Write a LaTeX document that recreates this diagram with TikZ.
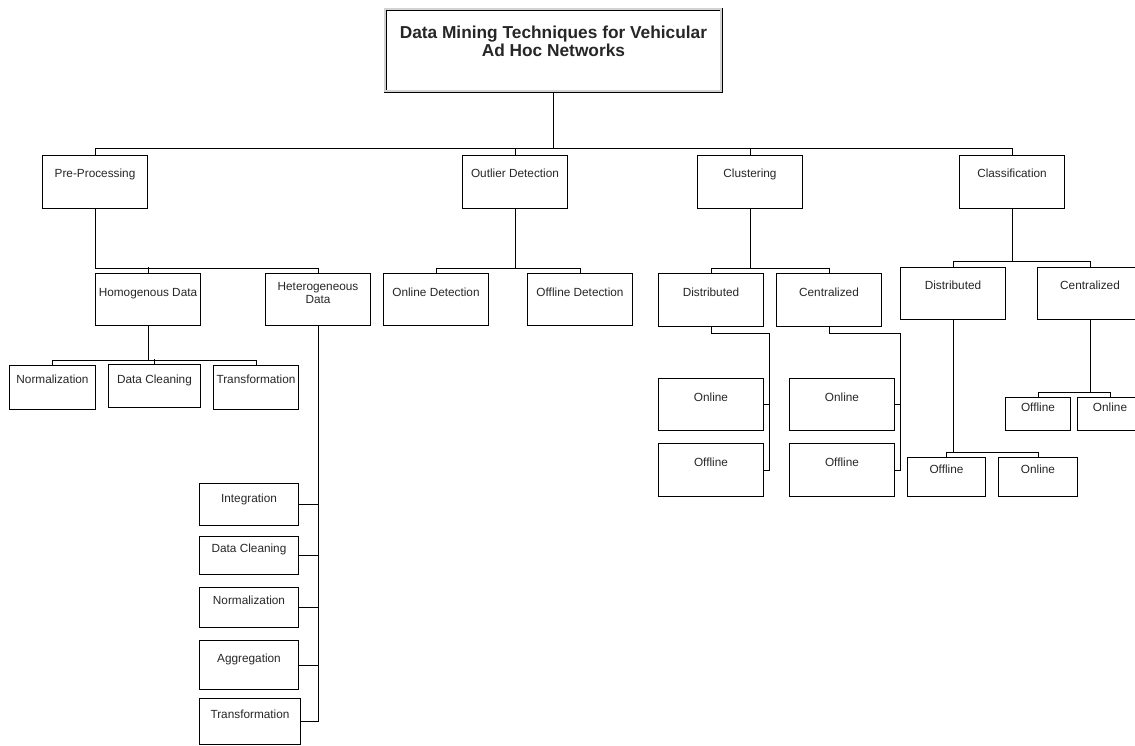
\documentclass[tikz,border=0pt]{standalone}
\usepackage{fontspec}
\setmainfont{Liberation Sans}

\begin{document}
\begin{tikzpicture}[%
    x=1pt, y=-1pt,              % work on the pixel grid, y going down
    line width=1pt,             % thin black connectors
    ]
\tikzset{
  base/.style={draw, anchor=north west, inner sep=0pt, align=center,
               text=black!85, font=\fontsize{11.8}{13.5}\selectfont},
  tbox/.style n args={3}{base, minimum width=#1, text height=#2pt, text depth=#3pt},
  head/.style={base, double=gray!35, double distance=2pt, line width=0.8pt,
               minimum width=336, text height=47.5pt, text depth=34.5pt,
               font=\fontsize{17.3}{18.5}\selectfont\bfseries},
}

\useasboundingbox (0,0) rectangle (1135,745);

% root
\node [head] (root) at (385,9) {Data Mining Techniques for Vehicular\\Ad Hoc Networks};

% first level
\node [tbox={105}{22}{31}] (pre) at (42,155) {Pre-Processing};
\node [tbox={105}{22}{31}] (out) at (462,155) {Outlier Detection};
\node [tbox={105}{22}{31}] (clu) at (697,155) {Clustering};
\node [tbox={105}{22}{31}] (cls) at (959,155) {Classification};

\draw (root.south) -- ++(0,57);
\draw (pre.north) -- ++(0,-7) -| (cls.north);
\draw (out.north) -- ++(0,-7);
\draw (clu.north) -- ++(0,-7);

% pre-processing
\node [tbox={105}{23}{29}] (hom) at (95,273) {Homogenous Data};
\node [tbox={105}{30}{22}] (het) at (265,273) {Heterogeneous\\Data};
\draw (pre.south) -- ++(0,59) -| (het.north);
\draw (hom.north) -- ++(0,-6);

\node [tbox={86}{17.5}{26}] (hnorm) at (9,365) {Normalization};
\node [tbox={92}{18.5}{24.5}] (hclean) at (108,364) {Data Cleaning};
\node [tbox={85}{17.5}{26}] (htrans) at (213,365) {Transformation};
\draw (hom.south) -- ++(0,34) -| (hnorm.north);
\draw (hom.south) -- ++(0,34) -| (htrans.north);
\draw (hclean.north) -- ++(0,-5);

\node [tbox={99}{18.5}{23.5}] (eint) at (199,483) {Integration};
\node [tbox={99}{15.5}{22.5}] (eclean) at (199,536) {Data Cleaning};
\node [tbox={99}{16.5}{23.5}] (enorm) at (199,587) {Normalization};
\node [tbox={99}{21.5}{27.5}] (eagg) at (199,640) {Aggregation};
\node [tbox={101}{19.5}{26.5}] (etrans) at (199,698) {Transformation};
\draw (het.south) |- (etrans.east);
\foreach \n in {eint,eclean,enorm,eagg}
  \draw (\n.east) -- (\n.east -| het.south);

% outlier detection
\node [tbox={105}{23}{29}] (onl) at (383,273) {Online Detection};
\node [tbox={105}{23}{29}] (off) at (527,273) {Offline Detection};
\draw (out.south) -- ++(0,59) -| (onl.north);
\draw (out.south) -- ++(0,59) -| (off.north);

% clustering
\node [tbox={105}{23}{30}] (cdist) at (658,273) {Distributed};
\node [tbox={105}{23}{30}] (ccent) at (776,273) {Centralized};
\draw (clu.south) -- ++(0,59) -| (cdist.north);
\draw (clu.south) -- ++(0,59) -| (ccent.north);

\node [tbox={105}{22.5}{29.5}] (cdon) at (658,378) {Online};
\node [tbox={105}{23}{30}] (cdoff) at (658,443) {Offline};
\node [tbox={105}{22.5}{29.5}] (ccon) at (789,378) {Online};
\node [tbox={105}{23}{30}] (ccoff) at (789,443) {Offline};
\draw (cdist.south) -- ++(0,6) -- ++(58.5,0) |- (cdoff.east);
\draw (cdon.east) -- ++(6,0);
\draw (ccent.south) -- ++(0,6) -- ++(71.5,0) |- (ccoff.east);
\draw (ccon.east) -- ++(6,0);

% classification
\node [tbox={105}{21.5}{30.5}] (kdist) at (900,267) {Distributed};
\node [tbox={105}{21.5}{30.5}] (kcent) at (1037,267) {Centralized};
\draw (cls.south) -- ++(0,52) -| (kdist.north);
\draw (cls.south) -- ++(0,52) -| (kcent.north);

\node [tbox={78}{15.5}{23.5}] (kdoff) at (907,457) {Offline};
\node [tbox={79}{15.5}{23.5}] (kdon) at (998,457) {Online};
\node [tbox={65}{13.5}{19.5}] (kcoff) at (1005,397) {Offline};
\node [tbox={65}{13.5}{19.5}] (kcon) at (1077,397) {Online};
\draw (kdist.south) -- ++(0,132) -| (kdoff.north);
\draw (kdist.south) -- ++(0,132) -| (kdon.north);
\draw (kcent.south) -- ++(0,72) -| (kcoff.north);
\draw (kcent.south) -- ++(0,72) -| (kcon.north);

\end{tikzpicture}
\end{document}
